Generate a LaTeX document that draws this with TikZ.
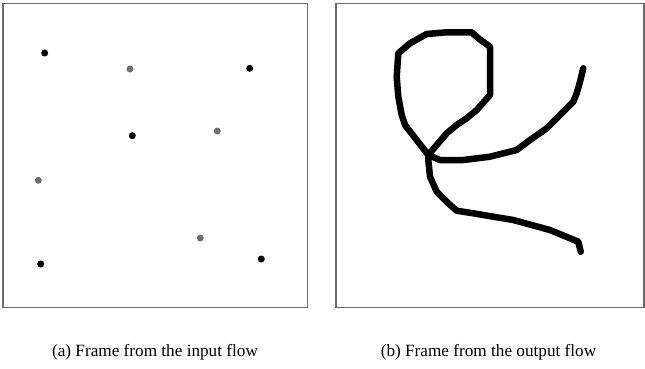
\documentclass[tikz,border=0pt]{standalone}
\usepackage{fontspec}
\setmainfont{Liberation Serif}
\definecolor{framegray}{HTML}{6A6A6A}
\definecolor{dotgray}{HTML}{707070}
\begin{document}
\begin{tikzpicture}[x=1pt,y=-1pt,
  panel/.style={draw=framegray,line width=1.2pt},
  blackdot/.style={circle,fill=black,inner sep=0pt,minimum size=7pt},
  graydot/.style={circle,fill=dotgray,inner sep=0pt,minimum size=7pt},
  stroke/.style={line width=6.5pt,line cap=round,line join=round},
  captext/.style={font=\fontsize{17.2}{20}\selectfont,inner sep=0pt}]
\useasboundingbox (0,0) rectangle (645,368);
\draw[panel] (3,3.5) rectangle (307.5,307.5);
\draw[panel] (336,3.5) rectangle (644,307.5);
% input flow dots
\node[blackdot] (b1) at (44.7,53) {};
\node[blackdot] (b2) at (249.7,68.3) {};
\node[blackdot] (b3) at (132.3,135.7) {};
\node[blackdot] (b4) at (40.7,264) {};
\node[blackdot] (b5) at (261.3,259) {};
\node[graydot] (g1) at (130,69) {};
\node[graydot] (g2) at (217.3,131) {};
\node[graydot] (g3) at (38.3,180.3) {};
\node[graydot] (g4) at (200.3,238) {};
% output stroke
\draw[stroke] (580.7,251.7) -- (578.3,241.7) -- (550,230) -- (513.3,220) -- (493.3,216.7)
  -- (473.3,213.3) -- (456.7,210.7) -- (448.3,203.3) -- (436.7,191.7) -- (430,176.7)
  -- (428.3,160) -- (428.3,155) -- (405,125) -- (401.7,115) -- (398.3,96.7)
  -- (396.7,76.7) -- (398.3,53.3) -- (410,43.3) -- (426.7,34) -- (446.7,32.3)
  -- (471.7,32.3) -- (478.3,38.3) -- (490,46.7) -- (490,95) -- (476.7,110)
  -- (466.7,118.3) -- (456.7,125) -- (446.7,133.3) -- (436.7,145) -- (428.3,155)
  -- (440,160) -- (463.3,160) -- (490,156.7) -- (516.7,150) -- (530,140)
  -- (546.7,128.3) -- (560,115) -- (573.3,101.7) -- (576.7,93.3) -- (580,81.7)
  -- (583.3,68.3);
% captions
\node[captext] (capa) at (155,352) {(a) Frame from the input flow};
\node[captext] (capb) at (488.5,352) {(b) Frame from the output flow};
\end{tikzpicture}
\end{document}
